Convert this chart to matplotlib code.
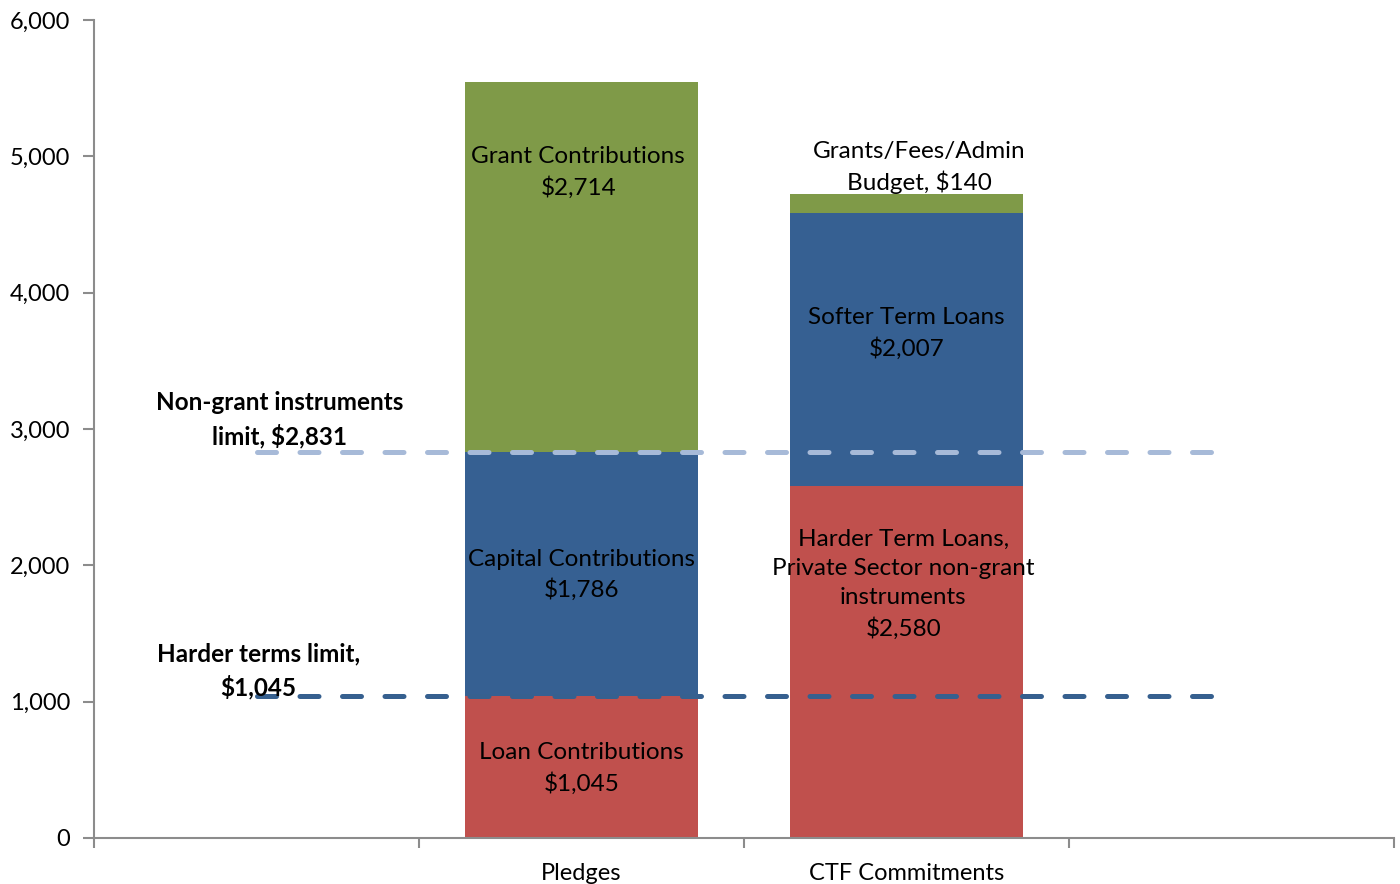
import matplotlib.pyplot as plt
import numpy as np

plt.rcParams['font.family'] = ['Lato', 'DejaVu Sans']

categories = ['', 'Pledges', 'CTF Commitments', '']
# stacked segments, bottom to top (in $ millions)
bottom_vals = [1045, 2580]
middle_vals = [1786, 2007]
top_vals = [2714, 140]
bottom_names = ['Loan Contributions\n$1,045',
                'Harder Term Loans,\nPrivate Sector non-grant\ninstruments\n$2,580']
middle_names = ['Capital Contributions\n$1,786', 'Softer Term Loans\n$2,007']
top_names = ['Grant Contributions\n$2,714', 'Grants/Fees/Admin\nBudget, $140']

nongrant_limit = 2831
harder_limit = 1045

red = '#C0504D'
blue = '#366092'
green = '#7F9A48'
axis_gray = '#8C8C8C'

fig = plt.figure(figsize=(14, 8.84), dpi=100)
ax = fig.add_axes([94 / 1400, 1 - 838 / 884, 1300 / 1400, 818 / 884])

xb = np.array([1, 2])
w = 0.715
b0 = np.array(bottom_vals)
b1 = b0 + np.array(middle_vals)
ax.bar(xb, bottom_vals, w, color=red, zorder=2)
ax.bar(xb, middle_vals, w, bottom=b0, color=blue, zorder=2)
ax.bar(xb, top_vals, w, bottom=b1, color=green, zorder=2)

xl = np.arange(len(categories))
ax.plot(xl, [nongrant_limit] * len(xl), color='#A7BAD8', lw=3.6,
        dashes=(3.8, 4.7), dash_capstyle='round', zorder=3)
ax.plot(xl, [harder_limit] * len(xl), color='#36608F', lw=3.6,
        dashes=(3.8, 4.7), dash_capstyle='round', zorder=3)

fs = 17.5
ls = 1.48
txt = dict(ha='center', va='center', fontsize=fs, color='black',
           linespacing=ls, zorder=4)
ax.text(1, 513, bottom_names[0], **txt)
ax.text(1, 1929, middle_names[0], **txt)
ax.text(0.99, 4880, top_names[0], **txt)
ax.text(1.99, 1863, bottom_names[1], **txt)
ax.text(2, 3700, middle_names[1], **txt)
ax.text(2.04, 4918, top_names[1], **txt)

ax.text(0.07, 3070, 'Non-grant instruments\nlimit, $2,831', ha='center',
        va='center', fontsize=fs, fontweight='bold', linespacing=ls)
ax.text(0.005, 1225, 'Harder terms limit,\n$1,045', ha='center',
        va='center', fontsize=fs, fontweight='bold', linespacing=ls)

ax.set_xlim(-0.5, 3.5)
ax.set_ylim(0, 6000)
ax.set_yticks(range(0, 6001, 1000))
ax.set_yticklabels([f'{v:,}' for v in range(0, 6001, 1000)], fontsize=17)
ax.set_xticks(xl)
ax.set_xticklabels(categories, fontsize=17)
ax.tick_params(axis='x', which='major', length=0, pad=18)
ax.set_xticks(np.arange(-0.5, 3.6, 1), minor=True)
ax.tick_params(axis='x', which='minor', length=7, width=1.5, color=axis_gray)
ax.tick_params(axis='y', length=8, width=1.5, color=axis_gray, pad=9)

for s in ['top', 'right']:
    ax.spines[s].set_visible(False)
for s in ['left', 'bottom']:
    ax.spines[s].set_color(axis_gray)
    ax.spines[s].set_linewidth(1.5)

fig.savefig('out.png', dpi=100)
